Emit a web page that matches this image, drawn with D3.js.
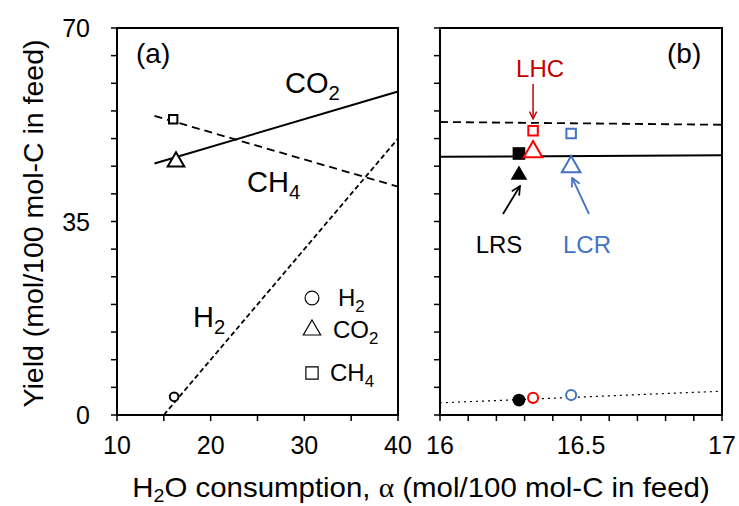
<!DOCTYPE html>
<html>
<head>
<meta charset="utf-8">
<script src="https://cdn.jsdelivr.net/npm/d3@7"></script>
<style>
  html, body { margin: 0; padding: 0; background: #fff; }
  svg { display: block; font-family: "Liberation Sans", Arial, sans-serif; }
</style>
</head>
<body>
<svg id="chart" width="739" height="506"></svg>
<script>
// ---- data ----
// panel (a): model lines as [alpha, yield] end points
const lineCO2a = [[14, 45.5], [40, 58.5]];
const lineCH4a = [[14, 54.1], [40, 41.3]];
const lineH2a  = [[15, 0], [40, 50]];
// panel (a): measured points [alpha, yield]
const pointsA = [
  { gas: "H2",  alpha: 16.1, y: 3.3 },
  { gas: "CO2", alpha: 16.3, y: 45.8 },
  { gas: "CH4", alpha: 16.0, y: 53.5 }
];
// panel (b): model lines
const lineCO2b = [[16, 46.7], [17, 47.0]];
const lineCH4b = [[16, 53.0], [17, 52.5]];
const lineH2b  = [[16, 2.2], [17, 4.3]];
// panel (b): cases
const caseNames = ["LRS", "LHC", "LCR"];
const caseAlpha = [16.28, 16.33, 16.465];
const caseH2    = [2.7, 3.1, 3.6];
const caseCO2   = [43.4, 47.6, 44.9];
const caseCH4   = [47.3, 51.4, 50.9];
const caseColor = ["#000000", "#ff0000", "#4472c4"];
const caseFill  = [true, false, false];
const caseLabelColor = ["#000000", "#c00000", "#4472c4"];

const yTicks = [0, 35, 70];
const xTicksA = [10, 20, 30, 40];
const xTicksB = [16, 16.5, 17];

// ---- layout ----
const svg = d3.select("#chart");
const plotTop = 28, plotBottom = 415;
const y = d3.scaleLinear().domain([0, 70]).range([plotBottom, plotTop]);
const xa = d3.scaleLinear().domain([10, 40]).range([117, 398]);
const xb = d3.scaleLinear().domain([16, 17]).range([440, 722]);

function frame(x, ticksMinor, labels, fmt) {
  const g = svg.append("g");
  const [x0, x1] = x.range();
  // y ticks every 5 units, pointing outwards
  g.selectAll(".yt").data(d3.range(0, 70.01, 5)).join("line")
    .attr("x1", x0 - 6).attr("x2", x0)
    .attr("y1", d => y(d)).attr("y2", d => y(d))
    .attr("stroke", "#000").attr("stroke-width", 1.5);
  // x ticks
  g.selectAll(".xt").data(ticksMinor).join("line")
    .attr("x1", d => x(d)).attr("x2", d => x(d))
    .attr("y1", plotBottom).attr("y2", plotBottom + 6)
    .attr("stroke", "#000").attr("stroke-width", 1.5);
  g.selectAll(".xl").data(labels).join("text")
    .attr("x", d => x(d)).attr("y", plotBottom + 39)
    .attr("text-anchor", "middle").attr("font-size", 25)
    .text(fmt);
  g.append("rect").attr("x", x0).attr("y", plotTop)
    .attr("width", x1 - x0).attr("height", plotBottom - plotTop)
    .attr("fill", "none").attr("stroke", "#000").attr("stroke-width", 2);
}

frame(xa, d3.range(10, 40.01, 5), xTicksA, d => d);
frame(xb, d3.range(16, 17.001, 0.1), xTicksB, d => d);

// y tick labels
svg.selectAll(".ylab").data(yTicks).join("text")
  .attr("x", 90).attr("y", d => y(d) + 9)
  .attr("text-anchor", "end").attr("font-size", 25)
  .text(d => d);

// axis titles
svg.append("text")
  .attr("transform", `translate(43,${(plotTop + plotBottom) / 2 + 2}) rotate(-90)`)
  .attr("text-anchor", "middle").attr("font-size", 28.5)
  .text("Yield (mol/100 mol-C in feed)");

const xt = svg.append("g").attr("transform", "translate(421,497) scale(1.09,1)")
  .append("text").attr("x", 0).attr("y", 0)
  .attr("text-anchor", "middle").attr("font-size", 27);
xt.append("tspan").text("H");
xt.append("tspan").attr("font-size", 18).attr("dy", 5).text("2");
xt.append("tspan").attr("dy", -5).text("O consumption, ");
xt.append("tspan").attr("font-family", "'Liberation Serif', serif").text("α");
xt.append("tspan").text(" (mol/100 mol-C in feed)");

// helper for chemical labels with subscript
function chem(x, yy, base, sub, size, color) {
  const t = svg.append("text").attr("x", x).attr("y", yy)
    .attr("font-size", size).attr("fill", color || "#000");
  t.append("tspan").text(base);
  t.append("tspan").attr("font-size", size * 0.7).attr("dy", size * 0.25).text(sub);
  return t;
}

function drawLine(x, pts, dash, w) {
  svg.append("path")
    .attr("d", d3.line().x(d => x(d[0])).y(d => y(d[1]))(pts))
    .attr("fill", "none").attr("stroke", "#000")
    .attr("stroke-width", w).attr("stroke-dasharray", dash);
}

// ---- panel (a) ----
drawLine(xa, lineCO2a, null, 2);
drawLine(xa, lineCH4a, "8,5", 1.8);
drawLine(xa, lineH2a, "5,3", 1.8);

const sym = { H2: d3.symbolCircle, CO2: d3.symbolTriangle, CH4: d3.symbolSquare };
const sizeA = { H2: 60, CO2: 120, CH4: 70 };
svg.selectAll(".pa").data(pointsA).join("path")
  .attr("transform", d => `translate(${xa(d.alpha)},${y(d.y)})`)
  .attr("d", d => d3.symbol(sym[d.gas], sizeA[d.gas])())
  .attr("fill", "#fff").attr("stroke", "#000").attr("stroke-width", 2);

svg.append("text").attr("x", 136).attr("y", 63).attr("font-size", 28).text("(a)");
chem(285, 93, "CO", "2", 29);
chem(247, 192, "CH", "4", 29);
chem(193, 327, "H", "2", 29);

// legend
const legend = [
  { gas: "H2", base: "H", sub: "2", yy: 298 },
  { gas: "CO2", base: "CO", sub: "2", yy: 330 },
  { gas: "CH4", base: "CH", sub: "4", yy: 373 }
];
legend.forEach(l => {
  svg.append("path")
    .attr("transform", `translate(312,${l.yy})`)
    .attr("d", d3.symbol(sym[l.gas], l.gas === "CO2" ? 130 : 150)())
    .attr("fill", "none").attr("stroke", "#000").attr("stroke-width", 1.2);
  chem(l.gas === "CH4" ? 330 : (l.gas === "CO2" ? 333 : 338), l.yy + 8, l.base, l.sub, 24);
});

// ---- panel (b) ----
drawLine(xb, lineCH4b, "8,5", 1.8);
drawLine(xb, lineCO2b, null, 2);
drawLine(xb, lineH2b, "2,4", 1.2);

caseNames.forEach((n, i) => {
  const fill = caseFill[i] ? caseColor[i] : "#fff";
  const sw = caseFill[i] ? 0 : 2;
  const cx = xb(caseAlpha[i]);
  const pts = [
    { s: d3.symbolSquare, v: caseCH4[i], size: caseFill[i] ? 160 : 90 },
    { s: d3.symbolTriangle, v: caseCO2[i], size: caseFill[i] ? 120 : 150 },
    { s: d3.symbolCircle, v: caseH2[i], size: caseFill[i] ? 130 : 80 }
  ];
  pts.forEach(p => {
    svg.append("path")
      .attr("transform", `translate(${cx},${y(p.v)})`)
      .attr("d", d3.symbol(p.s, p.size)())
      .attr("fill", fill).attr("stroke", caseColor[i]).attr("stroke-width", sw);
  });
});

// case labels with arrows
const defs = svg.append("defs");
function arrowHead(id, color) {
  defs.append("marker").attr("id", id).attr("viewBox", "0 0 10 10")
    .attr("refX", 9).attr("refY", 5).attr("markerWidth", 6).attr("markerHeight", 6)
    .attr("orient", "auto-start-reverse")
    .append("path").attr("d", "M1,1 L9,5 L1,9").attr("fill", "none")
    .attr("stroke", color).attr("stroke-width", 1.6);
}
arrowHead("ah0", caseLabelColor[0]);
arrowHead("ah1", caseLabelColor[1]);
arrowHead("ah2", caseLabelColor[2]);

// LHC above
svg.append("text").attr("x", xb(caseAlpha[1]) + 7).attr("y", 77)
  .attr("text-anchor", "middle").attr("font-size", 24)
  .attr("fill", caseLabelColor[1]).text(caseNames[1]);
svg.append("line").attr("x1", xb(caseAlpha[1])).attr("x2", xb(caseAlpha[1]))
  .attr("y1", 84).attr("y2", y(caseCH4[1]) - 12)
  .attr("stroke", caseLabelColor[1]).attr("stroke-width", 1.5)
  .attr("marker-end", "url(#ah1)");

// LRS below
svg.append("text").attr("x", 499).attr("y", 253)
  .attr("text-anchor", "middle").attr("font-size", 24)
  .attr("fill", caseLabelColor[0]).text(caseNames[0]);
svg.append("line").attr("x1", 503).attr("x2", xb(caseAlpha[0]) + 1)
  .attr("y1", 214).attr("y2", y(caseCO2[0]) + 11)
  .attr("stroke", caseLabelColor[0]).attr("stroke-width", 1.8)
  .attr("marker-end", "url(#ah0)");

// LCR below
svg.append("text").attr("x", 587).attr("y", 253)
  .attr("text-anchor", "middle").attr("font-size", 24)
  .attr("fill", caseLabelColor[2]).text(caseNames[2]);
svg.append("line").attr("x1", 589).attr("x2", xb(caseAlpha[2]) + 1)
  .attr("y1", 214).attr("y2", y(caseCO2[2]) + 11)
  .attr("stroke", caseLabelColor[2]).attr("stroke-width", 1.8)
  .attr("marker-end", "url(#ah2)");

svg.append("text").attr("x", 667).attr("y", 63).attr("font-size", 28).text("(b)");
</script>
</body>
</html>
